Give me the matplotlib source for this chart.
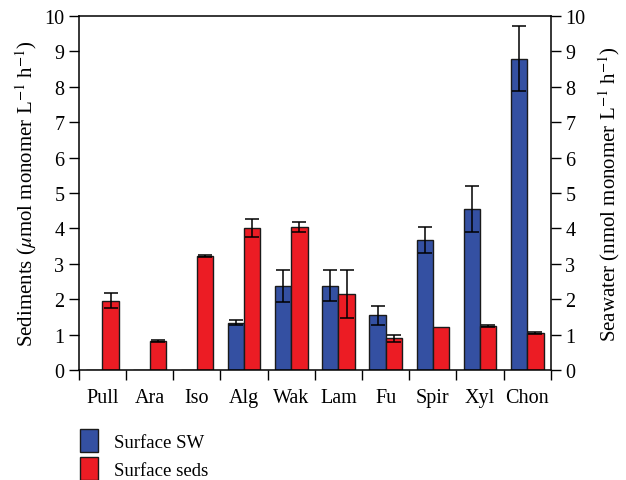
import matplotlib
matplotlib.use("Agg")
import matplotlib.pyplot as plt
import matplotlib.patches as mpatches
import numpy as np

# ---------------------------------------------------------------------------
# Data
# ---------------------------------------------------------------------------

SUBSTRATES = ["Pull", "Ara", "Iso", "Alg", "Wak", "Lam", "Fu", "Spir", "Xyl", "Chon"]

SW_MEAN = [0.0, 0.0, 0.0, 1.34, 2.38, 2.38, 1.54, 3.67, 4.54, 8.79]
SW_ERR = [0.0, 0.0, 0.0, 0.06, 0.45, 0.44, 0.28, 0.36, 0.65, 0.92]

SEDS_MEAN = [1.96, 0.83, 3.23, 4.02, 4.05, 2.15, 0.90, 1.22, 1.25, 1.04]
SEDS_ERR = [0.21, 0.03, 0.03, 0.25, 0.14, 0.68, 0.10, 0.0, 0.03, 0.03]

BLUE = "#3450A2"
RED = "#EC1C24"

plt.rcParams.update({
    "font.family": ["Liberation Serif", "DejaVu Serif"],
    "font.size": 14.5,
    "mathtext.fontset": "stix",
})

# ---------------------------------------------------------------------------
# Figure
# ---------------------------------------------------------------------------

fig = plt.figure(figsize=(6.26, 4.81), dpi=100)
ax = fig.add_axes([0.126, 0.2287, 0.754, 0.736])

x = np.arange(len(SUBSTRATES))
width = 0.345
err_kw = dict(ecolor="black", elinewidth=1.1, capsize=5, capthick=1.1)

ax.bar(x - width / 2, SW_MEAN, width, color=BLUE, edgecolor="#1a1a1a",
       linewidth=1.0, zorder=2)
ax.bar(x + width / 2, SEDS_MEAN, width, color=RED, edgecolor="#1a1a1a",
       linewidth=1.0, zorder=2)
for xs, m, e in [(x - width / 2, SW_MEAN, SW_ERR), (x + width / 2, SEDS_MEAN, SEDS_ERR)]:
    for xi, mi, ei in zip(xs, m, e):
        if ei > 0:
            ax.errorbar(xi, mi, yerr=ei, fmt="none", zorder=3, **err_kw)

ax.set_xlim(-0.5, len(SUBSTRATES) - 0.5)
ax.set_ylim(0, 10)
ax.set_yticks(range(0, 11))
ax.set_xticks(np.arange(-0.5, len(SUBSTRATES), 1.0))
ax.set_xticklabels([])
ax.set_xticks(x, minor=True)
ax.set_xticklabels(SUBSTRATES, minor=True)
ax.tick_params(axis="x", which="major", direction="out", length=7, width=1)
ax.tick_params(axis="x", which="minor", length=0, pad=13)
ax.tick_params(axis="y", direction="out", length=7, width=1)
ax.spines["right"].set_visible(False)
for s in ["left", "bottom", "top"]:
    ax.spines[s].set_linewidth(1.1)
ax.set_ylabel(r"Sediments ($\mu$mol monomer L$^{-1}$ h$^{-1}$)", fontsize=15, labelpad=4)

ax2 = ax.twinx()
ax2.set_ylim(0, 10)
ax2.set_yticks(range(0, 11))
ax2.tick_params(axis="y", direction="out", length=7, width=1)
ax2.spines["right"].set_linewidth(1.1)
for s in ["left", "bottom", "top"]:
    ax2.spines[s].set_visible(False)
ax2.set_ylabel(r"Seawater (nmol monomer L$^{-1}$ h$^{-1}$)", fontsize=15, labelpad=8)

handles = [
    mpatches.Patch(facecolor=BLUE, edgecolor="#1a1a1a", label="Surface SW"),
    mpatches.Patch(facecolor=RED, edgecolor="#1a1a1a", label="Surface seds"),
]
fig.legend(handles=handles, loc="upper left", bbox_to_anchor=(0.128, 0.105),
           frameon=False, handlelength=0.95, handleheight=1.45,
           handletextpad=0.85, labelspacing=0.3, fontsize=13.5,
           borderaxespad=0, borderpad=0)

fig.savefig("out.png", dpi=100)
